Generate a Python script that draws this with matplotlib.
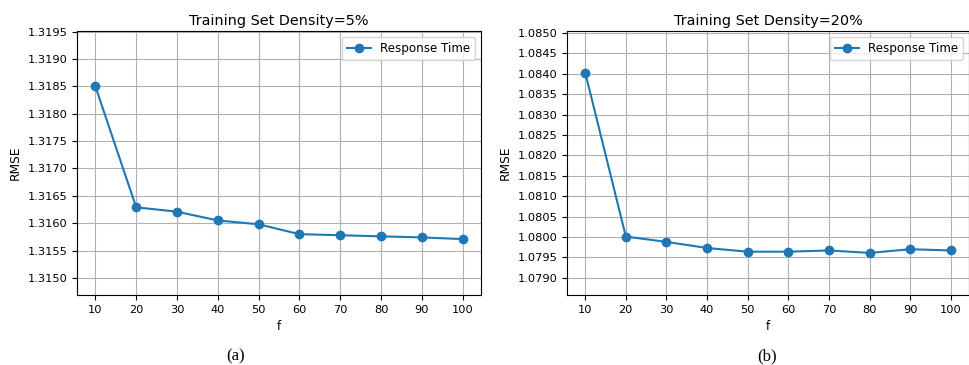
import matplotlib.pyplot as plt

f_values = [10, 20, 30, 40, 50, 60, 70, 80, 90, 100]
rmse_5 = [1.31850, 1.31629, 1.31621, 1.31605, 1.31598, 1.31580, 1.31578, 1.31576, 1.31574, 1.31571]
rmse_20 = [1.08403, 1.08001, 1.07988, 1.07973, 1.07964, 1.07964, 1.07967, 1.07961, 1.07970, 1.07967]

titles = ['Training Set Density=5%', 'Training Set Density=20%']
captions = ['(a)', '(b)']
yticks_5 = [1.3150 + 0.0005 * i for i in range(10)]
yticks_20 = [1.0790 + 0.0005 * i for i in range(13)]

fig = plt.figure(figsize=(9.7, 3.65), dpi=100)
ax1 = fig.add_axes([0.0794, 0.192, 0.4165, 0.723])
ax2 = fig.add_axes([0.5845, 0.192, 0.4145, 0.723])

panels = [
    (ax1, rmse_5, yticks_5, (1.31469, 1.31951)),
    (ax2, rmse_20, yticks_20, (1.07858, 1.08505)),
]

for i, (ax, vals, yt, yl) in enumerate(panels):
    ax.plot(f_values, vals, marker='o', color='#1f77b4', markersize=6,
            linewidth=1.5, label='Response Time')
    ax.set_xticks(f_values)
    ax.set_yticks(yt)
    ax.set_yticklabels(['%.4f' % v for v in yt])
    ax.set_ylim(*yl)
    ax.set_xlim(5.5, 104.5)
    ax.grid(True, color='#b0b0b0', linewidth=0.8)
    ax.tick_params(labelsize=8.2)
    ax.set_title(titles[i], fontsize=10.4, pad=4)
    ax.set_xlabel('f', fontsize=8.5, labelpad=4)
    ax.set_ylabel('RMSE', fontsize=8.8)
    ax.legend(loc='upper right', fontsize=8.6)

fig.text(0.2425, 0.012, captions[0], family='Liberation Serif', fontsize=12, ha='center')
fig.text(0.791, 0.012, captions[1], family='Liberation Serif', fontsize=12, ha='center')

fig.savefig('out.png', dpi=100)
